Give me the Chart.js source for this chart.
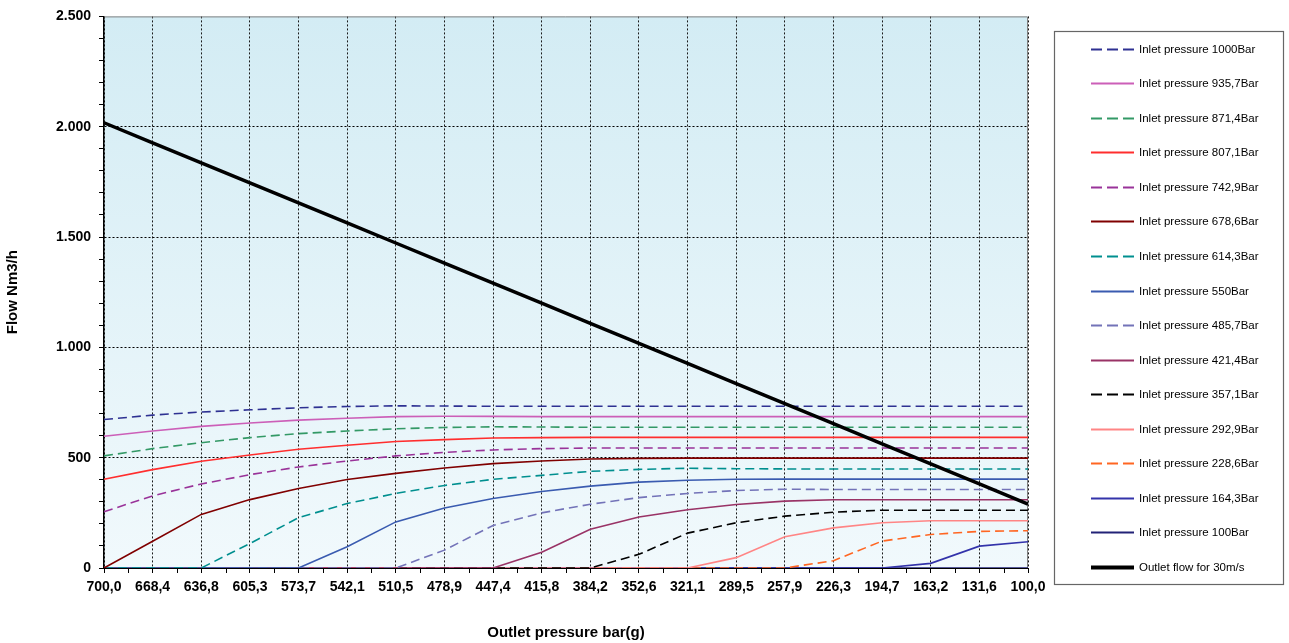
<!DOCTYPE html>
<html>
<head>
<meta charset="utf-8">
<title>Flow vs outlet pressure</title>
<script src="https://cdn.jsdelivr.net/npm/chart.js@4.4.1/dist/chart.umd.min.js"></script>
<style>
  html, body { margin: 0; padding: 0; background: #fff; }
  #wrap { position: relative; width: 1289px; height: 643px; }
</style>
</head>
<body>
<div id="wrap"><canvas id="chart"></canvas></div>
<script>
// outlet pressure, bar(g)
const categories = ['700,0', '668,4', '636,8', '605,3', '573,7', '542,1', '510,5', '478,9', '447,4', '415,8',
  '384,2', '352,6', '321,1', '289,5', '257,9', '226,3', '194,7', '163,2', '131,6', '100,0'];

// flow Nm3/h per inlet pressure
const inlet1000 = [673, 693, 707, 717, 726, 732, 735, 734, 733, 733, 733, 733, 733, 733, 733, 733, 733, 733, 733, 733];
const inlet935 = [597, 621, 642, 657, 670, 679, 686, 688, 687, 686, 686, 686, 686, 686, 686, 686, 686, 686, 686, 686];
const inlet871 = [508, 541, 568, 591, 609, 621, 631, 637, 640, 639, 638, 638, 638, 638, 638, 638, 638, 638, 638, 638];
const inlet807 = [402, 446, 484, 512, 538, 556, 573, 582, 589, 591, 592, 592, 592, 592, 592, 592, 592, 592, 592, 592];
const inlet742 = [255, 327, 381, 423, 458, 485, 508, 524, 535, 541, 544, 544, 544, 544, 544, 544, 544, 544, 544, 544];
const inlet678 = [0, 121, 243, 310, 360, 401, 429, 453, 473, 485, 494, 497, 498, 498, 498, 498, 498, 498, 498, 498];
const inlet614 = [0, 0, 0, 111, 228, 292, 338, 374, 402, 420, 438, 447, 452, 450, 449, 449, 449, 449, 449, 449];
const inlet550 = [0, 0, 0, 0, 0, 96, 209, 272, 315, 347, 371, 389, 398, 402, 403, 403, 403, 403, 403, 403];
const inlet485 = [0, 0, 0, 0, 0, 0, 0, 81, 193, 250, 289, 319, 338, 351, 357, 356, 356, 356, 356, 356];
const inlet421 = [0, 0, 0, 0, 0, 0, 0, 0, 0, 71, 176, 231, 264, 288, 303, 309, 309, 309, 309, 309];
const inlet357 = [0, 0, 0, 0, 0, 0, 0, 0, 0, 0, 0, 62, 158, 205, 235, 253, 262, 262, 262, 262];
const inlet292 = [0, 0, 0, 0, 0, 0, 0, 0, 0, 0, 0, 0, 0, 47, 142, 182, 205, 214, 214, 214];
const inlet228 = [0, 0, 0, 0, 0, 0, 0, 0, 0, 0, 0, 0, 0, 0, 0, 33, 122, 152, 166, 169];
const inlet164 = [0, 0, 0, 0, 0, 0, 0, 0, 0, 0, 0, 0, 0, 0, 0, 0, 0, 21, 99, 119];
const inlet100 = [0, 0, 0, 0, 0, 0, 0, 0, 0, 0, 0, 0, 0, 0, 0, 0, 0, 0, 0, 0];
const outletFlow = [2018, 1927, 1836, 1745, 1655, 1564, 1473, 1382, 1291, 1200, 1109, 1018, 927, 836, 745, 654, 563, 472, 381, 290];

const DASH = [9, 5];
const FONT = "'Liberation Sans', Arial, sans-serif";

function line(label, data, color, dashed, width) {
  return {
    label: label,
    data: data,
    borderColor: color,
    backgroundColor: color,
    borderWidth: width || 1.6,
    borderDash: dashed ? DASH : [],
    pointRadius: 0,
    pointHoverRadius: 0,
    tension: 0,
    fill: false
  };
}

const datasets = [
  line('Inlet pressure 1000Bar', inlet1000, '#2E3192', true),
  line('Inlet pressure 935,7Bar', inlet935, '#CC5FB8', false),
  line('Inlet pressure 871,4Bar', inlet871, '#339966', true),
  line('Inlet pressure 807,1Bar', inlet807, '#FF2E2E', false),
  line('Inlet pressure 742,9Bar', inlet742, '#993399', true),
  line('Inlet pressure 678,6Bar', inlet678, '#800000', false),
  line('Inlet pressure 614,3Bar', inlet614, '#008F8F', true),
  line('Inlet pressure 550Bar', inlet550, '#3A5BB0', false),
  line('Inlet pressure 485,7Bar', inlet485, '#7373B8', true),
  line('Inlet pressure 421,4Bar', inlet421, '#993366', false),
  line('Inlet pressure 357,1Bar', inlet357, '#000000', true),
  line('Inlet pressure 292,9Bar', inlet292, '#FF8585', false),
  line('Inlet pressure 228,6Bar', inlet228, '#FF6622', true),
  line('Inlet pressure 164,3Bar', inlet164, '#3333AA', false),
  line('Inlet pressure 100Bar', inlet100, '#222277', false),
  Object.assign(line('Outlet flow for 30m/s', outletFlow, '#000000', false, 3.5), { order: -1 })
];

function thousands(v) {
  if (v >= 1000) return Math.floor(v / 1000) + '.' + String(v % 1000).padStart(3, '0');
  return String(v);
}

// light blue gradient behind the plot
const plotBackground = {
  id: 'plotBackground',
  beforeDraw(chart) {
    const { ctx, chartArea: a } = chart;
    const g = ctx.createLinearGradient(0, a.top, 0, a.bottom);
    g.addColorStop(0, '#D3ECF4');
    g.addColorStop(1, '#F1F9FC');
    ctx.save();
    ctx.fillStyle = g;
    ctx.fillRect(a.left, a.top, a.right - a.left, a.bottom - a.top);
    ctx.restore();
  },
  beforeDatasetsDraw(chart) {
    const { ctx, chartArea: a, scales } = chart;
    ctx.save();
    // top and right frame
    ctx.strokeStyle = '#808080';
    ctx.lineWidth = 1;
    ctx.beginPath();
    ctx.moveTo(a.left, a.top + 0.5);
    ctx.lineTo(a.right - 0.5, a.top + 0.5);
    ctx.lineTo(a.right - 0.5, a.bottom);
    ctx.stroke();
    // minor ticks half way between categories
    const x = scales.x;
    ctx.strokeStyle = '#000';
    ctx.beginPath();
    for (let i = 0; i < categories.length - 1; i++) {
      const px = Math.round((x.getPixelForValue(i) + x.getPixelForValue(i + 1)) / 2) + 0.5;
      ctx.moveTo(px, a.bottom);
      ctx.lineTo(px, a.bottom + 5);
    }
    ctx.stroke();
    ctx.restore();
  }
};

// boxed legend on the right
const boxLegend = {
  id: 'boxLegend',
  afterDraw(chart) {
    const ctx = chart.ctx;
    ctx.save();
    ctx.strokeStyle = '#666';
    ctx.lineWidth = 1.2;
    ctx.strokeRect(1054.5, 31.5, 229, 553);
    ctx.font = '11.5px ' + FONT;
    ctx.textBaseline = 'middle';
    ctx.fillStyle = '#000';
    chart.data.datasets.forEach((ds, i) => {
      const y = Math.round(48.7 + i * 34.55) + 0.5;
      ctx.strokeStyle = ds.borderColor;
      ctx.lineWidth = ds.borderWidth > 2 ? 4 : 2;
      ctx.setLineDash(ds.borderDash && ds.borderDash.length ? [11, 5] : []);
      ctx.beginPath();
      ctx.moveTo(1091, y);
      ctx.lineTo(1134, y);
      ctx.stroke();
      ctx.setLineDash([]);
      ctx.fillText(ds.label, 1139, y);
    });
    ctx.restore();
  }
};

new Chart(document.getElementById('chart'), {
  type: 'line',
  data: { labels: categories, datasets: datasets },
  plugins: [plotBackground, boxLegend],
  options: {
    responsive: true,
    maintainAspectRatio: false,
    animation: false,
    layout: { padding: { top: 15, right: 261, bottom: 0, left: 0 } },
    plugins: {
      legend: { display: false },
      tooltip: { enabled: false }
    },
    scales: {
      x: {
        type: 'category',
        offset: false,
        afterFit(scale) { scale.height = 75; },
        grid: {
          color: '#1a1a1a',
          lineWidth: 1,
          tickColor: '#000',
          tickLength: 5
        },
        border: { display: true, color: '#000', width: 1, dash: [2, 2] },
        ticks: {
          color: '#000',
          font: { family: FONT, size: 14, weight: 'bold' },
          padding: 6,
          maxRotation: 0,
          autoSkip: false
        },
        title: {
          display: true,
          text: 'Outlet pressure bar(g)',
          color: '#000',
          font: { family: FONT, size: 15, weight: 'bold' },
          padding: { top: 4, bottom: 1 }
        }
      },
      y: {
        min: 0,
        max: 2500,
        afterFit(scale) { scale.width = 104; },
        grid: {
          color: ctx => (ctx.tick && ctx.tick.value % 500 === 0 && ctx.tick.value > 0 && ctx.tick.value < 2500) ? '#000' : 'rgba(0,0,0,0)',
          lineWidth: 1,
          tickColor: '#000',
          tickLength: 5
        },
        border: { display: true, color: '#000', width: 1.5, dash: [2, 2] },
        ticks: {
          stepSize: 100,
          maxTicksLimit: 30,
          autoSkip: false,
          color: '#000',
          font: { family: FONT, size: 14, weight: 'bold' },
          padding: 8,
          callback: v => (v % 500 === 0 ? thousands(v) : '')
        },
        title: {
          display: true,
          text: 'Flow Nm3/h',
          color: '#000',
          font: { family: FONT, size: 15, weight: 'bold' },
          padding: { top: 4, bottom: 4 }
        }
      }
    }
  }
});
</script>
</body>
</html>
